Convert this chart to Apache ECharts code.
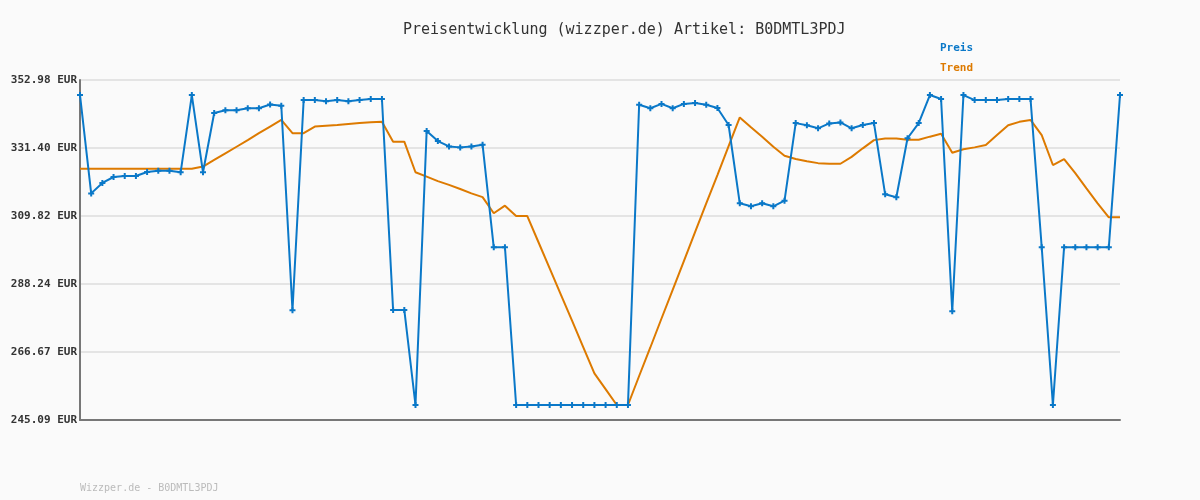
<!DOCTYPE html>
<html><head><meta charset="utf-8">
<script src="https://cdn.jsdelivr.net/npm/echarts@6/dist/echarts.min.js"></script>
<style>html,body{margin:0;padding:0;background:#fafafa;}#c{width:1200px;height:500px;}</style>
</head><body><div id="c"></div>
<script>
const titleText = 'Preisentwicklung (wizzper.de) Artikel: B0DMTL3PDJ';
const footerText = 'Wizzper.de - B0DMTL3PDJ';
const yTickLabels = ['245.09 EUR','266.67 EUR','288.24 EUR','309.82 EUR','331.40 EUR','352.98 EUR'];
const yMin = 245.09;
const yMax = 352.98;
const preis = [
348.2,317.0,320.3,322.2,322.5,322.5,323.8,324.2,324.2,323.7,
348.2,323.7,342.5,343.4,343.4,344.0,344.0,345.2,344.8,279.9,
346.6,346.6,346.2,346.6,346.2,346.6,346.95,346.95,280.0,280.0,
249.85,336.8,333.6,331.9,331.6,331.9,332.4,299.9,299.9,249.85,
249.85,249.85,249.85,249.85,249.85,249.85,249.85,249.85,249.85,249.85,
345.15,344.0,345.4,344.0,345.4,345.7,345.15,344.1,338.7,313.85,
312.9,313.85,312.9,314.7,339.3,338.6,337.65,339.2,339.5,337.65,
338.7,339.3,316.7,315.76,334.5,339.3,348.2,346.95,279.6,348.2,
346.6,346.6,346.6,346.95,346.95,346.95,299.9,249.85,299.9,299.9,
299.9,299.9,299.9,348.2
];
const trend = [
324.8,324.8,324.8,324.8,324.8,324.8,324.8,324.8,324.8,324.8,
324.8,325.5,327.6,329.7,331.8,333.9,336.1,338.2,340.3,336.1,
336.1,338.2,338.5,338.7,339.0,339.3,339.6,339.7,333.4,333.4,
323.7,322.3,320.9,319.7,318.4,317.0,315.8,310.7,313.1,309.8,
309.8,301.5,293.2,284.9,276.6,268.2,259.9,254.9,249.85,249.85,
259.05,268.1,277.3,286.4,295.5,304.7,313.8,322.8,332.0,341.1,
337.97,335.0,331.8,328.96,327.9,327.2,326.6,326.4,326.4,328.6,
331.3,333.9,334.4,334.4,334.0,334.0,335.0,335.9,329.9,331.0,
331.6,332.35,335.5,338.6,339.7,340.3,335.5,326.0,327.9,323.4,
318.6,313.85,309.4,309.4
];
const categories = preis.map((_, i) => String(i + 1));
const nSteps = yTickLabels.length - 1;
const step = (yMax - yMin) / nSteps;
const toAxis = v => (v - yMin) / step;

const mono = 'DejaVu Sans Mono, monospace';
const blue = '#0a78c8';
const orange = '#dd7a00';
const cross = 'path://M-1,-3L1,-3L1,-1L3,-1L3,1L1,1L1,3L-1,3L-1,1L-3,1L-3,-1L-1,-1Z';
const chart = echarts.init(document.getElementById('c'));
chart.setOption({
  backgroundColor: '#fafafa',
  animation: false,
  title: [{
    text: titleText, left: 398, top: 18,
    textStyle: {fontFamily: mono, fontSize: 15, fontWeight: 'normal', color: '#333'}
  }, {
    text: footerText, left: 75, top: 478,
    textStyle: {fontFamily: mono, fontSize: 10, fontWeight: 'normal', color: '#bbb'}
  }],
  legend: {
    orient: 'vertical', left: 935, top: 38, itemGap: 9,
    itemWidth: 0, itemHeight: 0, icon: 'rect',
    data: [
      {name: 'Preis', textStyle: {color: blue}},
      {name: 'Trend', textStyle: {color: orange}}
    ],
    textStyle: {fontFamily: mono, fontSize: 11, fontWeight: 'bold', padding: [0,0,0,-5]}
  },
  grid: {left: 80, right: 80, top: 80, bottom: 80},
  xAxis: {
    type: 'category', data: categories, boundaryGap: false,
    axisLine: {lineStyle: {color: '#777', width: 2}},
    axisTick: {show: false}, axisLabel: {show: false}, splitLine: {show: false}
  },
  yAxis: {
    type: 'value', min: 0, max: nSteps, interval: 1,
    axisLine: {show: true, lineStyle: {color: '#777', width: 2}},
    axisTick: {show: false},
    axisLabel: {fontFamily: mono, fontSize: 11, fontWeight: 'bold', color: '#333', margin: 3,
      formatter: v => yTickLabels[Math.round(v)]},
    splitLine: {lineStyle: {color: '#e4e4e4', width: 2}}
  },
  series: [{
    name: 'Preis', type: 'line', data: preis.map(toAxis), z: 3,
    symbol: cross, symbolSize: 6, showSymbol: true,
    lineStyle: {color: blue, width: 2}, itemStyle: {color: blue}
  }, {
    name: 'Trend', type: 'line', data: trend.map(toAxis), z: 2,
    symbol: 'none',
    lineStyle: {color: orange, width: 2}, itemStyle: {color: orange}
  }]
});
</script></body></html>
